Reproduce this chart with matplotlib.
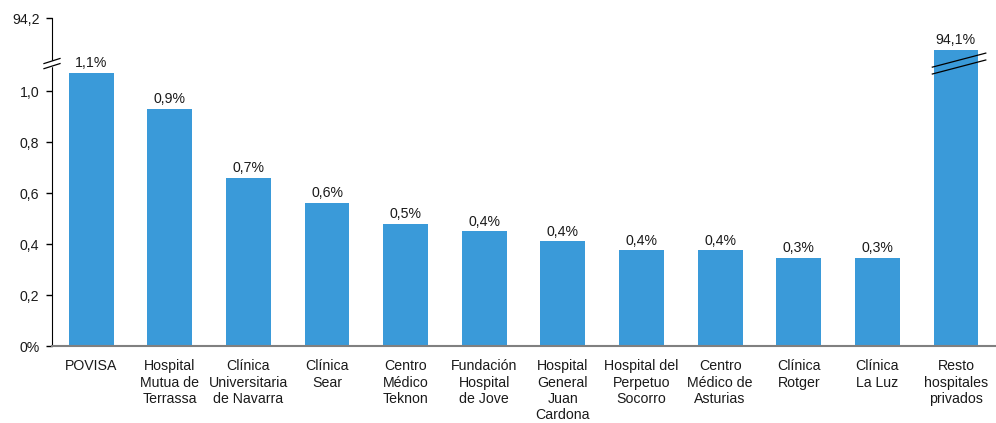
import numpy as np
import matplotlib.pyplot as plt
from matplotlib.lines import Line2D

plt.rcParams["font.family"] = ["Liberation Sans", "DejaVu Sans"]

# ===== Data =====
hospitals = [
    "POVISA",
    "Hospital\nMutua de\nTerrassa",
    "Clínica\nUniversitaria\nde Navarra",
    "Clínica\nSear",
    "Centro\nMédico\nTeknon",
    "Fundación\nHospital\nde Jove",
    "Hospital\nGeneral\nJuan\nCardona",
    "Hospital del\nPerpetuo\nSocorro",
    "Centro\nMédico de\nAsturias",
    "Clínica\nRotger",
    "Clínica\nLa Luz",
    "Resto\nhospitales\nprivados",
]
share = [1.07, 0.93, 0.66, 0.56, 0.48, 0.45, 0.41, 0.375, 0.375, 0.345, 0.345, 94.1]
value_labels = ["1,1%", "0,9%", "0,7%", "0,6%", "0,5%", "0,4%", "0,4%",
                "0,4%", "0,4%", "0,3%", "0,3%", "94,1%"]
ytick_vals = [0, 0.2, 0.4, 0.6, 0.8, 1.0, 94.2]
ytick_labels = ["0%", "0,2", "0,4", "0,6", "0,8", "1,0", "94,2"]

# broken axis: values above the break are squeezed into the top segment
break_lo, break_hi = 1.1, 94.05
top_display = 1.286


def to_axis(v):
    v = np.asarray(v, dtype=float)
    upper = break_lo + (v - break_hi) / (94.2 - break_hi) * (top_display - break_lo)
    return np.where(v <= break_lo, v, upper)


bar_color = "#3A9AD9"
text_color = "#1a1a1a"
fs = 10.2

fig = plt.figure(figsize=(9.96, 4.23), dpi=100)
ax = fig.add_axes([0.0522, 0.182, 0.947, 0.775])

x = np.arange(len(hospitals))
heights = to_axis(share)
ax.bar(x, heights, width=0.57, color=bar_color, zorder=2)

for xi, h, lab in zip(x, heights, value_labels):
    ax.annotate(lab, (xi, h), xytext=(0, 2), textcoords="offset points",
                ha="center", va="bottom", fontsize=fs, color=text_color)

ax.set_xlim(-0.5, len(hospitals) - 0.5)
ax.set_ylim(0, top_display)
ax.set_yticks(to_axis(ytick_vals))
ax.set_yticklabels(ytick_labels, fontsize=fs, color=text_color)
ax.set_xticks(x)
ax.set_xticklabels(hospitals, fontsize=fs, color=text_color, linespacing=1.22)
ax.tick_params(axis="x", length=0, pad=9.5)
ax.tick_params(axis="y", length=4, width=1, direction="out", pad=5)

for side in ["top", "right"]:
    ax.spines[side].set_visible(False)
ax.spines["left"].set_color("black")
ax.spines["bottom"].set_color("#808080")
ax.spines["bottom"].set_linewidth(1.5)

# break marks on the y axis
trans = ax.get_yaxis_transform()
yb = 1.098
ax.fill([-0.004, 0.004, 0.004, -0.004], [yb - 0.004, yb + 0.0, yb + 0.02, yb + 0.016],
        transform=trans, color="white", zorder=5, clip_on=False)
for dy in (0.0, 0.02):
    ax.add_line(Line2D([-0.0085, 0.0085], [yb - 0.01 + dy, yb + 0.01 + dy],
                       transform=trans, color="black", lw=0.9, zorder=6, clip_on=False))

# break marks on the last bar
xl = x[-1]
for y0, y1 in ((1.094, 1.149), (1.067, 1.122)):
    ax.add_line(Line2D([xl - 0.3, xl + 0.38], [y0, y1],
                       color="black", lw=0.9, zorder=6, clip_on=False))

fig.savefig("out.png", dpi=100)
